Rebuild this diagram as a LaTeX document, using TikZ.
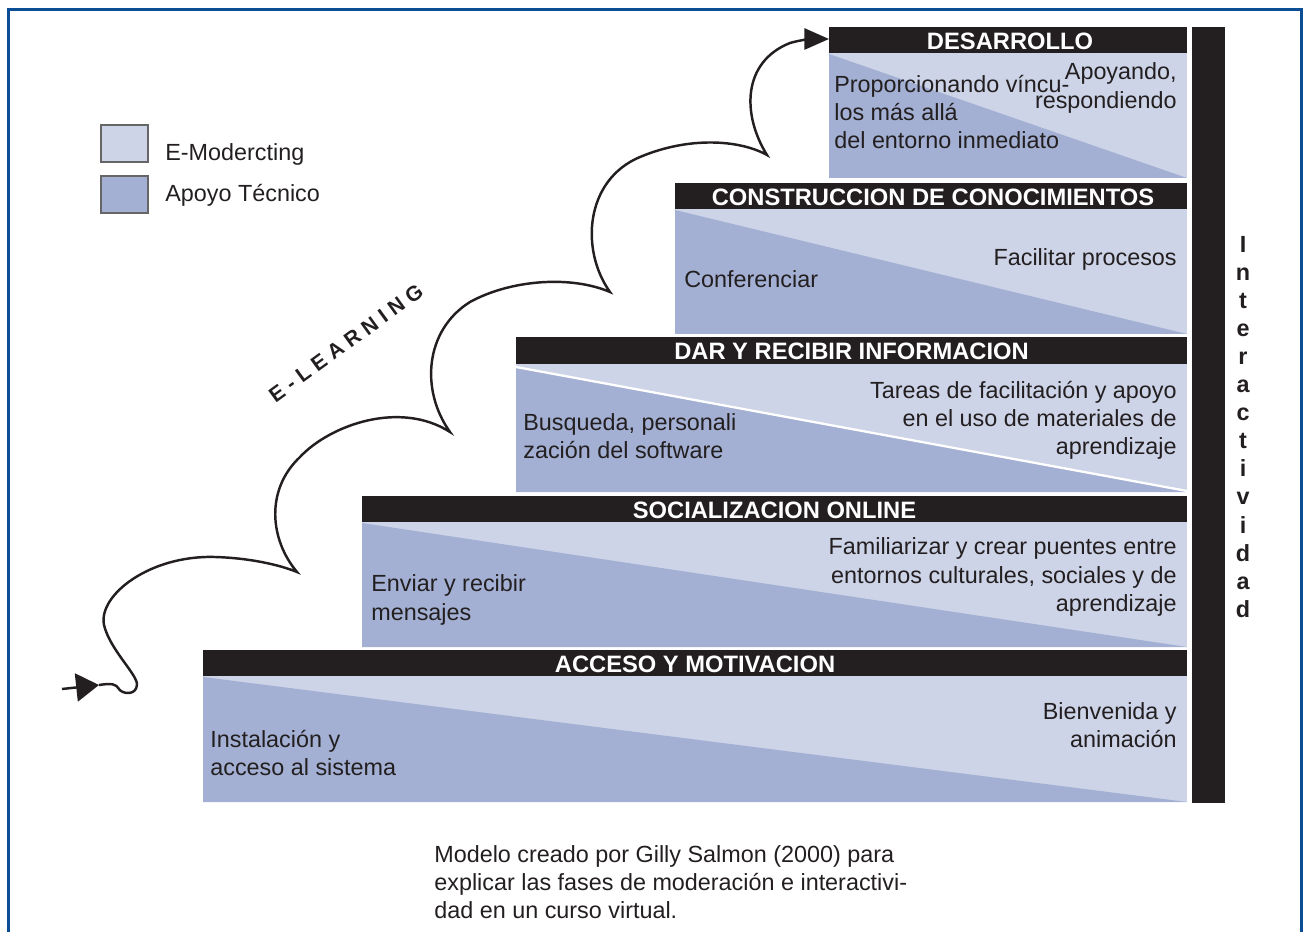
\documentclass[tikz,border=0pt]{standalone}
\usepackage{fontspec}
\setmainfont{Liberation Sans}
\usepackage{tikz}
\usepackage{xcolor}
\usetikzlibrary{arrows.meta}

\definecolor{claro}{HTML}{CDD4E8}
\definecolor{oscuro}{HTML}{A3B0D3}
\definecolor{negro}{HTML}{231F20}
\definecolor{marco}{HTML}{0C4E95}

\begin{document}
\begin{tikzpicture}[x=0.02cm, y=-0.02cm,
  font=\fontsize{13.3}{16}\selectfont,
  titulo/.style={text=white, font=\fontsize{13.5}{16}\selectfont\bfseries, inner sep=0pt},
  izq/.style={anchor=west, align=left, text=negro, inner sep=0pt},
  der/.style={anchor=east, align=right, text=negro, inner sep=0pt},
  muestra/.style={draw=gray!80!black, line width=0.6pt, minimum width=0.94cm, minimum height=0.74cm, inner sep=0pt},
  onda/.style={line width=1.4pt, negro}]
  \useasboundingbox (0,0) rectangle (1305,932);

  % Frame (open at the bottom)
  \draw[marco, line width=1.6pt] (8.5,932) -- (8.5,9.5) -- (1301.5,9.5) -- (1301.5,932);

  % Step 1
  \fill[claro] (203,676) rectangle (1187,802);
  \fill[oscuro] (203,677) -- (1187,802) -- (203,802) -- cycle;
  \fill[negro] (203,650) rectangle (1187,676);
  \node[titulo] (acceso) at (695,664) {ACCESO Y MOTIVACION};
  \node[izq] (acceso-izq) at (210,753) {Instalación y\\acceso al sistema};
  \node[der] (acceso-der) at (1177,725) {Bienvenida y\\animación};

  % Step 2
  \fill[claro] (362,522) rectangle (1187,647);
  \fill[oscuro] (362,523) -- (1187,647) -- (362,647) -- cycle;
  \fill[negro] (362,496) rectangle (1187,522);
  \node[titulo] (socializacion) at (774.5,510) {SOCIALIZACION ONLINE};
  \node[izq] (socializacion-izq) at (371,600) {Enviar y recibir\\mensajes};
  \node[der] (socializacion-der) at (1177,577) {Familiarizar y crear puentes entre\\entornos culturales, sociales y de\\aprendizaje};

  % Step 3
  \fill[claro] (516,364) rectangle (1187,492);
  \fill[oscuro] (516,367) -- (1187,491) -- (1187,492) -- (516,492) -- cycle;
  \draw[white, line width=1.3pt] (516,367) -- (1187,491);
  \fill[negro] (516,337) rectangle (1187,364);
  \node[titulo] (informacion) at (851.5,351.5) {DAR Y RECIBIR INFORMACION};
  \node[izq] (informacion-izq) at (523,436) {Busqueda, personali\\zación del software};
  \node[der] (informacion-der) at (1177,420) {Tareas de facilitación y apoyo\\en el uso de materiales de\\aprendizaje};

  % Step 4
  \fill[claro] (675,209) rectangle (1187,334);
  \fill[oscuro] (675,210) -- (1187,334) -- (675,334) -- cycle;
  \fill[negro] (675,183) rectangle (1187,209);
  \node[titulo] (construccion) at (933,197) {CONSTRUCCION DE CONOCIMIENTOS};
  \node[izq] (construccion-izq) at (684,279) {Conferenciar};
  \node[der] (construccion-der) at (1177,259) {Facilitar procesos};

  % Step 5
  \fill[claro] (829,53) rectangle (1187,178);
  \fill[oscuro] (829,54) -- (1187,178) -- (829,178) -- cycle;
  \fill[negro] (829,27) rectangle (1187,53);
  \node[titulo] (desarrollo) at (1010,41) {DESARROLLO};
  \node[izq] (desarrollo-izq) at (834,112) {Proporcionando víncu-\\los más allá\\del entorno inmediato};
  \node[der] (desarrollo-der) at (1177,88) {Apoyando,\\respondiendo};

  % Interactivity bar
  \fill[negro] (1192,27) rectangle (1225,803);
  \node[text=negro, font=\fontsize{13.3}{15.95}\selectfont\bfseries, align=center, inner sep=0pt] (interactividad) at (1243,427)
    {I\\n\\t\\e\\r\\a\\c\\t\\i\\v\\i\\d\\a\\d};

  % Legend
  \node[muestra, fill=claro] (leyenda-claro) at (124.5,143.5) {};
  \node[muestra, fill=oscuro] (leyenda-oscuro) at (124.5,194.5) {};
  \node[izq] (leyenda-claro-txt) at (165,154) {E-Modercting};
  \node[izq] (leyenda-oscuro-txt) at (165,195) {Apoyo Técnico};

  % E-learning path
  \coordinate (inicio) at (62,689);
  \coordinate (onda1) at (99,685);
  \coordinate (des) at (829,39);
  \draw[onda, -{Triangle[length=13pt, width=16pt]}] (inicio) -- (onda1);
  \draw[onda, -{Triangle[length=14pt, width=12pt]}] (onda1)
    .. controls (112,683) and (116,684) .. (119,689)
    .. controls (122,694) and (136,696) .. (137,685)
    .. controls (138,675) and (110,650) .. (104,625)
    .. controls (98,595) and (150,555) .. (215,557)
    .. controls (250,558) and (280,565) .. (297,572)
    .. controls (270,540) and (265,490) .. (300,457)
    .. controls (330,425) and (400,400) .. (450,432)
    .. controls (420,390) and (425,330) .. (470,302)
    .. controls (510,280) and (570,275) .. (610,292)
    .. controls (580,250) and (585,180) .. (640,157)
    .. controls (690,136) and (740,140) .. (767,155)
    .. controls (742,115) and (742,62) .. (790,43)
    .. controls (800,40) and (812,39) .. (des);
  \node[text=negro, rotate=36, font=\fontsize{12}{14}\selectfont\bfseries\addfontfeature{LetterSpace=28}] (elearning) at (346,343) {E-LEARNING};

  % Caption
  \node[izq] (pie) at (434,882) {Modelo creado por Gilly Salmon (2000) para\\explicar las fases de moderación e interactivi-\\dad en un curso virtual.};
\end{tikzpicture}
\end{document}
